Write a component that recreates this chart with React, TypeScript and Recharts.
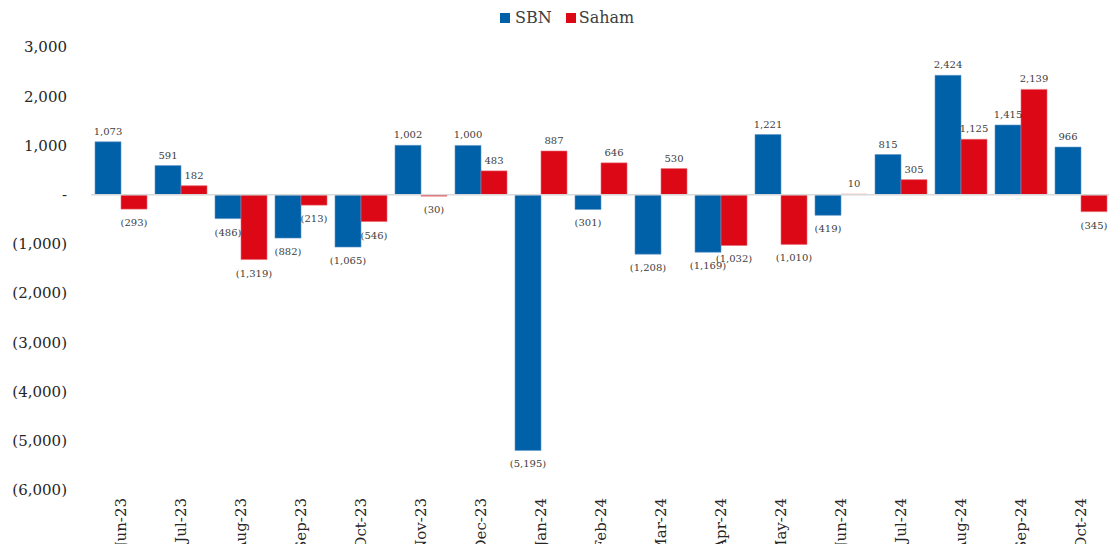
import { BarChart, Bar, XAxis, YAxis, ReferenceLine, LabelList } from "recharts"

const months = [
  "Jun-23", "Jul-23", "Aug-23", "Sep-23", "Oct-23", "Nov-23", "Dec-23", "Jan-24", "Feb-24",
  "Mar-24", "Apr-24", "May-24", "Jun-24", "Jul-24", "Aug-24", "Sep-24", "Oct-24",
]
const sbn = [1073, 591, -486, -882, -1065, 1002, 1000, -5195, -301, -1208, -1169, 1221, -419, 815, 2424, 1415, 966]
const saham = [-293, 182, -1319, -213, -546, -30, 483, 887, 646, 530, -1032, -1010, 10, 305, 1125, 2139, -345]
const yTicks = [3000, 2000, 1000, 0, -1000, -2000, -3000, -4000, -5000, -6000]

const BLUE = "#0060A8"
const RED = "#DC0816"
const FONT = "'DejaVu Serif', serif"

const chartData = months.map((m, i) => ({ month: m, sbn: sbn[i], saham: saham[i] }))

const fmt = (v: number) => {
  if (v === 0) return "-"
  const s = Math.abs(v).toLocaleString("en-US")
  return v < 0 ? `(${s})` : s
}

function ValueLabel(props: any) {
  const { x, y, width, height, value } = props
  const top = Math.min(y, y + height)
  const bottom = Math.max(y, y + height)
  const ty = value < 0 ? bottom + 17 : top - 7
  return (
    <text x={x + width / 2} y={ty} textAnchor="middle" fontSize={10} fontFamily={FONT} fill="#404040">
      {fmt(value)}
    </text>
  )
}

function MonthTick(props: any) {
  const { x, y, payload } = props
  return (
    <text
      x={x}
      y={y}
      transform={`rotate(-90, ${x}, ${y})`}
      textAnchor="end"
      dy="0.35em"
      fontSize={15}
      fontFamily={FONT}
      fill="#262626"
    >
      {payload.value}
    </text>
  )
}

export default function App() {
  return (
    <div style={{ position: "absolute", left: 0, top: 0, width: 1109, height: 544, overflow: "hidden", background: "#fff" }}>
      <div
        style={{
          position: "absolute",
          left: 500,
          top: 8,
          display: "flex",
          alignItems: "center",
          fontFamily: FONT,
          fontSize: 16,
          color: "#404040",
        }}
      >
        <span style={{ width: 10, height: 10, background: BLUE, display: "inline-block", marginRight: 5 }} />
        <span style={{ marginRight: 14 }}>SBN</span>
        <span style={{ width: 10, height: 10, background: RED, display: "inline-block", marginRight: 3 }} />
        <span>Saham</span>
      </div>
      <BarChart
        width={1113}
        height={544}
        data={chartData}
        margin={{ top: 47, right: 2, bottom: 0, left: 0 }}
        barGap={0}
        barCategoryGap={4}
      >
        <XAxis
          dataKey="month"
          axisLine={false}
          tickLine={false}
          tickSize={0}
          tickMargin={8}
          height={54}
          interval={0}
          tick={<MonthTick />}
        />
        <YAxis
          domain={[-6000, 3000]}
          ticks={yTicks}
          interval={0}
          width={91}
          axisLine={false}
          tickLine={false}
          tickSize={0}
          tickMargin={24}
          tickFormatter={fmt}
          tick={{ fontSize: 15, fontFamily: FONT, fill: "#262626" }}
        />
        <ReferenceLine y={0} stroke="#d9d9d9" strokeWidth={1.5} />
        <Bar dataKey="sbn" fill={BLUE} stroke="#5f95c8" strokeWidth={0.6} isAnimationActive={false}>
          <LabelList dataKey="sbn" content={<ValueLabel />} />
        </Bar>
        <Bar dataKey="saham" fill={RED} stroke="#ea6a72" strokeWidth={0.6} isAnimationActive={false}>
          <LabelList dataKey="saham" content={<ValueLabel />} />
        </Bar>
      </BarChart>
    </div>
  )
}
